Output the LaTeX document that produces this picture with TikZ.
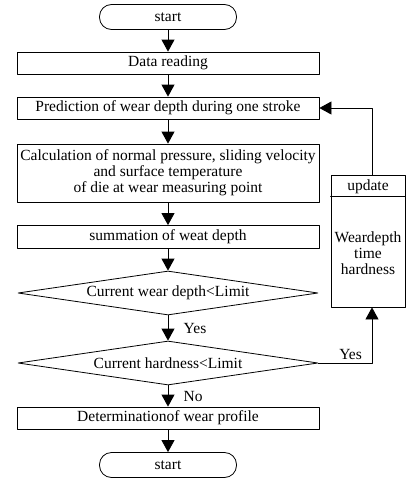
\documentclass[tikz,border=0pt]{standalone}
\usepackage{fontspec}
\setmainfont{Liberation Serif}
\usetikzlibrary{arrows.meta,shapes.geometric}

\begin{document}
\begin{tikzpicture}[x=1pt, y=-1pt, line join = round, line cap = round,
    font=\fontsize{15.5}{16}\selectfont,
    box/.style={draw, line width=0.8pt, rectangle, minimum width=302pt, inner sep=2pt},
    term/.style={draw, line width=0.8pt, rounded corners=12pt, minimum width=137pt, minimum height=25pt},
    test/.style={draw, line width=0.8pt, diamond, aspect=6.8, inner sep=0pt, minimum width=300pt, minimum height=44pt},
    flow/.style={line width=0.8pt, -{Triangle[width=13pt,length=12pt]}}]
                \useasboundingbox (0,0) rectangle (406,479);
                % main column
                \node[term] (start) at (168,17) {start};
                \node[box, minimum height=22pt] (read) at (168,63) {Data reading};
                \node[box, minimum height=22pt] (pred) at (168,108) {Prediction of wear depth during one stroke};
                \node[box, minimum height=58pt, align=center] (calc) at (168,173) {Calculation of normal pressure, sliding velocity\\and surface temperature\\of die at wear measuring point};
                \node[box, minimum height=23pt] (sum) at (168,237) {summation of weat depth};
                \node[test] (depth) at (168,293) {Current wear depth<Limit};
                \node[test] (hard) at (168,363) {Current hardness<Limit};
                \node[box, minimum height=22pt] (prof) at (168,418) {Determinationof wear profile};
                \node[term] (stop) at (168,465) {start};
                % update box
                \node[draw, line width=0.8pt, minimum width=74pt, minimum height=132pt] (upd) at (368,241) {};
                \node (updtitle) at (368,187) {update};
                \draw[line width=0.8pt] (upd.north west) ++(0,22) coordinate (updl) -- ++(74,0) coordinate (updr);
                \node[align=center] (updvars) at (368,253) {Weardepth\\time\\hardness};
                % connectors
                \draw[flow] (start) -- (read);
                \draw[flow] (read) -- (pred);
                \draw[flow] (pred) -- (calc);
                \draw[flow] (calc) -- (sum);
                \draw[flow] (sum) -- (depth);
                \draw[flow] (depth) -- node[right=12pt] (yesdown) {Yes} (hard);
                \draw[flow] (hard) -- node[right=12pt] (no) {No} (prof);
                \draw[flow] (prof) -- (stop);
                \draw[flow] (hard.east) -| node[pos=0.3, above] (yesup) {Yes} ([xshift=4pt]upd.south);
                \draw[flow] ([xshift=4pt]upd.north) |- (pred.east);
              \end{tikzpicture}
\end{document}
